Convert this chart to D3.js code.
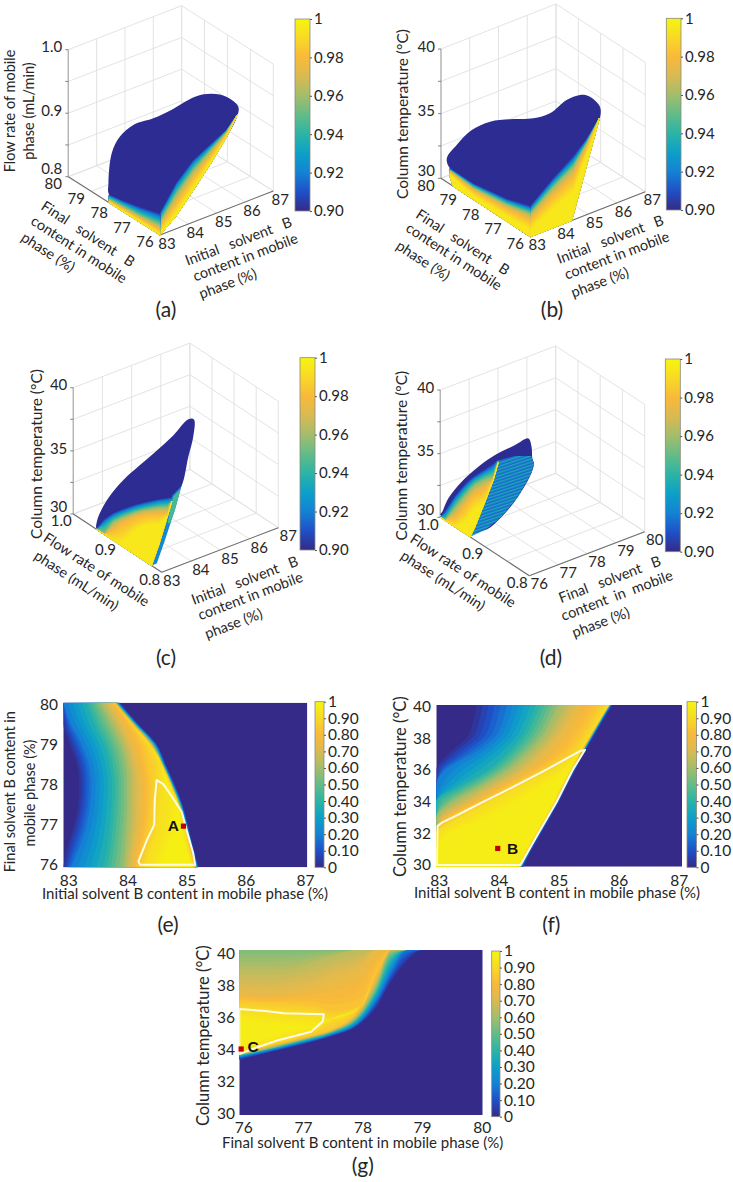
<!DOCTYPE html>
<html lang="en">
<head>
  <meta charset="UTF-8">
  <title>Desirability plots</title>
  <script src="https://d3js.org/d3.v7.min.js"></script>
  <style>
    body { margin: 0; background: #fff; }
    svg { display: block; }
    text { font-family: Lato, "Open Sans", sans-serif; fill: #262626; }
    .domain { display: none; }
  </style>
</head>
<body>
<script>
  // colour map
  const mapStops = [0, 0.1, 0.2, 0.3, 0.4, 0.5, 0.6, 0.7, 0.8, 0.9, 1];
  const mapColors = ["#352a87", "#1f50c8", "#1482d4", "#0ca0c8", "#2bb4a6", "#62bc88", "#a3bd6b", "#d9ba52", "#f9b93a", "#f8d926", "#f6f50f"];
  const barLabels2d = ["0", "0.10", "0.20", "0.30", "0.40", "0.50", "0.60", "0.70", "0.80", "0.90", "1"];
  const barValues2d = [0, 0.1, 0.2, 0.3, 0.4, 0.5, 0.6, 0.7, 0.8, 0.9, 1];
  const barLabels3d = ["0.90", "0.92", "0.94", "0.96", "0.98", "1"];
  const barValues3d = [0.9, 0.92, 0.94, 0.96, 0.98, 1];
  const surfaceNavy = "#2d2c92";

  // tick lists
  const initialTicks = [83, 84, 85, 86, 87];
  const finalTicks = [76, 77, 78, 79, 80];
  const flowTicks = [0.8, 0.9, 1.0];
  const flowGrid = [0.8, 0.85, 0.9, 0.95, 1.0];
  const tempTicks = [30, 35, 40];
  const tempGrid = [30, 32.5, 35, 37.5, 40];
  const tempTicks2d = [30, 32, 34, 36, 38, 40];

  // 3D levels, shared by the cut faces
  const faceLevels = [0.9, 0.92, 0.94, 0.96, 0.98, 0.995];

  // (a) silhouette of the D = 0.90 surface: initial B, final B, flow
  const aSurface = [[83, 78.22, 0.813], [83, 78.25, 0.83], [83.24, 78.4, 0.87], [83.61, 78.5, 0.887], [84, 78.4, 0.901], [84.38, 78, 0.914], [84.71, 77.6, 0.931], [84.97, 77.2, 0.951], [85.34, 77, 0.958], [85.76, 76.8, 0.955], [85.86, 76.4, 0.954], [85.85, 76.1, 0.95], [85.73, 76, 0.94], [85.35, 76, 0.915], [84.76, 76, 0.9], [84.06, 76, 0.88], [83.47, 76, 0.85], [83, 76, 0.825], [83, 76.87, 0.818], [83, 77.67, 0.812]];
  const aSideCols = [[83, 76], [83, 76.87], [83, 77.67], [83, 78.22]];
  const aSide = [
    [0.835, 0.825, 0.817, 0.813],
    [0.829, 0.82, 0.814, 0.8105],
    [0.822, 0.815, 0.811, 0.808],
    [0.815, 0.81, 0.807, 0.805],
    [0.808, 0.806, 0.804, 0.803],
    [0.802, 0.802, 0.801, 0.801]
  ];
  const aSideClose = [[83, 78.22, 0.8], [83, 76, 0.8]];
  const aFrontCols = [[83, 76], [83.59, 76], [84.18, 76], [84.76, 76], [85.35, 76], [85.73, 76]];
  const aFront = [
    [0.835, 0.874, 0.899, 0.912, 0.925, 0.942],
    [0.831, 0.869, 0.894, 0.909, 0.924, 0.942],
    [0.8265, 0.862, 0.888, 0.905, 0.923, 0.942],
    [0.82, 0.854, 0.881, 0.901, 0.921, 0.942],
    [0.813, 0.842, 0.87, 0.893, 0.919, 0.942],
    [0.8035, 0.827, 0.856, 0.884, 0.915, 0.942]
  ];
  const aFrontClose = [[85.35, 76, 0.914], [84.76, 76, 0.88], [84.18, 76, 0.8505], [83.59, 76, 0.821], [83, 76, 0.8]];

  // (b) initial B, final B, temperature
  const bSurface = [[83, 79.6, 31.22], [83, 79.74, 31.84], [83.39, 79.8, 32.46], [83.76, 79.6, 33.52], [83.93, 79, 34.7], [84.23, 78.5, 35.19], [84.66, 78, 35.45], [84.85, 77.5, 36.24], [85.04, 77, 37.67], [85.27, 76.7, 38.2], [85.41, 76.5, 38.22], [85.5, 76.1, 37.77], [85.4, 76, 36.9], [84.96, 76, 35.4], [84.5, 76, 34.5], [83.8, 76, 33.4], [83.22, 76, 32.5], [83, 76, 32], [83, 77.06, 31.4], [83, 78.55, 31]];
  const bSideCols = [[83, 76], [83, 77.06], [83, 78.55], [83, 79.6]];
  const bSide = [
    [32.45, 31.77, 31.25, 31.22],
    [32.2, 31.6, 31.13, 31.16],
    [32, 31.45, 31.03, 31.11],
    [31.76, 31.27, 30.9, 31.05],
    [31.35, 30.97, 30.69, 30.94],
    [30.6, 30.44, 30.31, 30.75]
  ];
  const bSideClose = [[83, 79.6, 30.6], [83, 79.45, 30], [83, 76, 30]];
  const bFrontCols = [[83, 76], [83.8, 76], [84.5, 76], [84.96, 76], [85.4, 76]];
  const bFront = [
    [32.45, 33.9, 35.01, 35.9, 37.07],
    [32.2, 33.63, 34.7, 35.75, 37.07],
    [32, 33.4, 34.4, 35.6, 37.07],
    [31.76, 33.12, 34.09, 35.5, 37.07],
    [31.35, 32.53, 33.4, 35.2, 37.07],
    [30.6, 31.56, 32.25, 34.7, 37.07]
  ];
  const bFrontClose = [[84.44, 76, 30], [83, 76, 30]];

  // (c) initial B, flow, temperature
  const cSurface = [[83, 0.947, 30.05], [83, 0.946, 30.75], [83.2, 0.95, 31.28], [83.5, 0.95, 32.15], [83.96, 0.95, 33], [84.53, 0.95, 33.68], [85.1, 0.95, 34.31], [85.67, 0.95, 35.01], [86.19, 0.95, 35.83], [86.38, 0.95, 35.66], [84.84, 0.85, 37.96], [84.52, 0.84, 36.89], [84.03, 0.823, 35.39], [83.7, 0.823, 34.6], [83, 0.823, 34], [83, 0.9, 32]];
  const cStrip = [[84.03, 0.823, 35.39], [83.8, 0.823, 33.69], [83.46, 0.823, 31.61], [83.18, 0.823, 30], [83, 0.823, 30], [83.25, 0.823, 31.41], [83.55, 0.823, 33.44], [83.7, 0.823, 34.89]];
  const cStripTop = [[84, 0.823, 35.23], [83.8, 0.823, 33.69], [83.63, 0.823, 32.78], [83.55, 0.823, 32.86], [83.72, 0.823, 34.76]];
  const cFaceCols = [[83, 0.947], [83, 0.93], [83, 0.91], [83, 0.89], [83, 0.86], [83, 0.84], [83, 0.823], [83.25, 0.823], [83.55, 0.823], [83.7, 0.823]];
  const cFace = [
    [30.05, 31.27, 32.18, 32.96, 34, 34.64, 35.16, 35.05, 34.92, 34.89],
    [30, 31, 31.97, 32.74, 33.81, 34.46, 34.98, 34.89, 34.7, 34.63],
    [30, 30.66, 31.71, 32.51, 33.58, 34.22, 34.74, 34.63, 34.41, 34.49],
    [30, 30, 31.42, 32.24, 33.34, 34.01, 34.5, 34.36, 34.12, 34.49],
    [30, 30, 30.81, 31.82, 32.99, 33.64, 34.11, 33.91, 33.65, 34.49],
    [30, 30, 30, 30.34, 32.02, 32.82, 33.34, 33.12, 33.44, 34.49]
  ];
  const cFaceClose = [[83.55, 0.823, 33.44], [83.25, 0.823, 31.41], [83, 0.823, 30], [83, 0.947, 30]];

  // (d) final B, flow, temperature
  const dSurface = [[76, 1, 30.2], [76.07, 1, 30.38], [76.28, 1, 31.25], [76.74, 1, 32.16], [77.32, 1, 32.84], [77.59, 0.98, 33.98], [77.82, 0.95, 35.25], [77.82, 0.92, 36.46], [77.62, 0.9, 36.44], [77.34, 0.88, 36.22], [77.24, 0.87, 36.15], [77.15, 0.87, 35.44], [76.69, 0.87, 34], [76.28, 0.88, 32.56], [76.01, 0.9, 31.29], [76, 0.933, 30.6], [76, 0.97, 30.6]];
  const dStrip = [[76, 0.87, 37.43], [76.58, 0.87, 37.3], [77.15, 0.87, 36.8], [77.24, 0.87, 36.15], [77.15, 0.87, 35.44], [76.69, 0.87, 34], [76.28, 0.88, 32.56], [76.01, 0.9, 31.29], [76, 0.933, 30], [76, 0.922, 31.05], [76, 0.8995, 33.53], [76, 0.881, 35.66]];
  const dFaceCols = [[76, 1], [76, 0.989], [76, 0.967], [76, 0.9445], [76, 0.933], [76, 0.922], [76, 0.8995], [76, 0.881], [76, 0.87]];
  const dFace = [
    [30, 30.81, 32.51, 33.94, 34.59, 35.11, 36.15, 37.02, 37.49],
    [30, 30.55, 32.22, 33.68, 34.33, 34.9, 35.88, 36.7, 37.43],
    [30, 30.24, 31.9, 33.36, 34.07, 34.66, 35.62, 36.31, 37.38],
    [30, 30, 31.46, 32.94, 33.67, 34.32, 35.23, 35.87, 37.33],
    [30, 30, 30.75, 32.24, 33.02, 33.67, 34.58, 35.66, 37.28],
    [30, 30, 30, 30.93, 31.84, 32.49, 33.53, 35.66, 37.23]
  ];
  const dFaceClose = [[76, 0.881, 35.66], [76, 0.8995, 33.53], [76, 0.922, 31.05], [76, 0.933, 30], [76, 1, 30]];

  // (e) level edges per row of final B: left and right crossing in initial B
  const eRows = [76, 76.5, 77, 77.5, 78, 78.5, 79, 79.5, 80];
  const eLevels = [0.03, 0.2, 0.4, 0.6, 0.75, 0.85, 0.92, 0.98];
  const eLeft = [
    [83, 83.06, 83.17, 83.24, 83.26, 83.22, 83.1, 83, 83],
    [83.13, 83.27, 83.38, 83.44, 83.46, 83.42, 83.3, 83.12, 83],
    [83.65, 83.72, 83.76, 83.79, 83.8, 83.76, 83.66, 83.5, 83.38],
    [83.98, 84.01, 84.03, 84.05, 84.05, 84.02, 83.93, 83.77, 83.6],
    [84.12, 84.17, 84.22, 84.24, 84.24, 84.2, 84.1, 83.95, 83.75],
    [84.22, 84.3, 84.38, 84.41, 84.42, 84.38, 84.3, 84.1, 83.84],
    [84.35, 84.45, 84.55, 84.58, 84.6, 84.6, 84.4, 84.1, 83.84],
    [84.6, 84.72, 84.85, 84.88, 84.73, 84.58, 84.38, 84.08, 83.82]
  ];
  const eRight = [
    [85.22, 85.13, 85.05, 84.96, 84.83, 84.68, 84.53, 84.22, 83.93],
    [85.2, 85.11, 85.03, 84.94, 84.81, 84.66, 84.5, 84.19, 83.9],
    [85.19, 85.1, 85.02, 84.93, 84.79, 84.64, 84.48, 84.17, 83.88],
    [85.18, 85.09, 85.01, 84.91, 84.78, 84.63, 84.45, 84.15, 83.86],
    [85.16, 85.08, 85, 84.9, 84.77, 84.62, 84.43, 84.13, 83.85],
    [85.15, 85.07, 84.99, 84.9, 84.77, 84.62, 84.42, 84.12, 83.84],
    [85.14, 85.05, 84.98, 84.88, 84.75, 84.6, 84.4, 84.1, 83.84],
    [85.1, 85, 84.92, 84.88, 84.73, 84.58, 84.38, 84.08, 83.82]
  ];
  const eContour = [[84.53, 78.12], [84.64, 78.02], [84.78, 77.72], [84.94, 77.35], [85.02, 76.91], [85.13, 76.34], [85.16, 76.06], [84.26, 76.06], [84.23, 76.14], [84.37, 76.66], [84.49, 77.03], [84.5, 77.64]];
  const ePoint = [84.97, 77];

  // (f) level edges per row of temperature
  const fRows = [30, 31, 32, 33, 34, 35, 36, 37, 38, 39, 40];
  const fLevels = [0.03, 0.2, 0.4, 0.6, 0.75, 0.85, 0.92, 0.97];
  const fLeft = [
    [83, 83, 83, 83, 83, 83, 83, 83.2, 83.5, 83.6, 83.65],
    [83, 83, 83, 83, 83, 83, 83.15, 83.6, 83.95, 84.08, 84.15],
    [83, 83, 83, 83, 83, 83.4, 83.85, 84.15, 84.38, 84.52, 84.62],
    [83, 83, 83, 83, 83.25, 83.72, 84.15, 84.45, 84.7, 84.85, 84.97],
    [83, 83, 83, 83.1, 83.55, 84, 84.45, 84.75, 84.98, 85.15, 85.3],
    [83, 83, 83, 83.2, 83.72, 84.2, 84.7, 85.1, 85.32, 85.5, 85.65],
    [83, 83, 83, 83.4, 83.9, 84.4, 84.9, 85.3, 85.48, 85.64, 85.8],
    [83, 83, 83.2, 83.8, 84.3, 84.75, 85.15, 85.3, 85.46, 85.62, 85.77]
  ];
  const fRight = [
    [84.42, 84.55, 84.7, 84.85, 85, 85.13, 85.27, 85.4, 85.56, 85.71, 85.87],
    [84.39, 84.52, 84.67, 84.82, 84.97, 85.1, 85.24, 85.38, 85.53, 85.68, 85.84],
    [84.38, 84.51, 84.66, 84.81, 84.96, 85.09, 85.23, 85.37, 85.52, 85.67, 85.83],
    [84.37, 84.5, 84.65, 84.8, 84.95, 85.08, 85.22, 85.36, 85.51, 85.66, 85.82],
    [84.36, 84.49, 84.64, 84.79, 84.94, 85.07, 85.21, 85.35, 85.5, 85.65, 85.81],
    [84.35, 84.48, 84.63, 84.78, 84.93, 85.06, 85.2, 85.34, 85.49, 85.65, 85.81],
    [84.34, 84.47, 84.62, 84.77, 84.92, 85.05, 85.19, 85.33, 85.48, 85.64, 85.8],
    [84.32, 84.45, 84.6, 84.75, 84.9, 85.03, 85.17, 85.3, 85.46, 85.62, 85.77]
  ];
  const fContour = [[83.01, 30.1], [84.37, 30.1], [84.66, 32.06], [84.96, 34.02], [85.22, 35.98], [85.42, 37.22], [85.34, 37.15], [84.8, 36.02], [84.26, 34.95], [83.77, 34.02], [83.31, 33.13], [83.09, 32.72], [83.02, 32.52]];
  const fPoint = [84, 31.13];

  // (g) level edges per column of final B: lower and upper crossing in temperature
  const gCols = [76, 76.5, 77, 77.25, 77.5, 78, 78.25, 78.5, 78.75, 79, 80];
  const gLevels = [0.03, 0.2, 0.4, 0.55, 0.65, 0.75, 0.85, 0.92, 0.97];
  const gLower = [
    [33.33, 33.8, 34.24, 34.48, 34.75, 35.55, 36.5, 38.1, 39.3, 40, 40],
    [33.5, 33.9, 34.35, 34.58, 34.85, 35.75, 36.95, 38.7, 40, 40, 40],
    [33.6, 34, 34.45, 34.68, 34.95, 36, 37.4, 39.4, 40, 40, 40],
    [33.65, 34.03, 34.52, 34.75, 35.02, 36.15, 37.7, 39.8, 40, 40, 40],
    [33.67, 34.1, 34.57, 34.8, 35.07, 36.3, 38, 40, 40, 40, 40],
    [33.7, 34.15, 34.6, 34.83, 35.1, 36.4, 38.2, 40, 40, 40, 40],
    [33.75, 34.2, 34.65, 34.88, 35.15, 36.6, 38.6, 40, 40, 40, 40],
    [33.75, 34.3, 34.85, 35.2, 35.8, 36.6, 38.6, 40, 40, 40, 40],
    [34.2, 34.7, 35.25, 35.3, 35.8, 36.6, 38.6, 40, 40, 40, 40]
  ];
  const gUpper = [
    [40, 40, 40, 40, 40, 40, 40, 40, 40, 40, 40],
    [40, 40, 40, 40, 40, 40, 40, 40, 40, 40, 40],
    [40, 40, 40, 40, 40, 40, 40, 40, 40, 40, 40],
    [40, 40, 40, 40, 40, 40, 40, 40, 40, 40, 40],
    [38.8, 38.8, 39, 39.3, 39.6, 40, 40, 40, 40, 40, 40],
    [37.4, 37.3, 37.6, 37.8, 38.2, 39, 40, 40, 40, 40, 40],
    [36.9, 36.8, 36.7, 36.6, 36.3, 36.6, 38.6, 40, 40, 40, 40],
    [36.42, 36.25, 36.12, 36.05, 35.8, 36.6, 38.6, 40, 40, 40, 40],
    [35.8, 35.5, 35.4, 35.3, 35.8, 36.6, 38.6, 40, 40, 40, 40]
  ];
  const gContour = [[76, 36.42], [76.43, 36.3], [76.73, 36.16], [77.39, 36.1], [77.37, 35.66], [77.18, 35.05], [76.65, 34.55], [76.32, 34.14], [76, 33.7]];
  const gPoint = [76.03, 34];

  const svg = d3.select("body").append("svg")
    .attr("width", 733)
    .attr("height", 1182);
  const defs = svg.append("defs");

  const color2d = d3.scaleLinear().domain(mapStops).range(mapColors);
  const color3d = d3.scaleLinear().domain(mapStops.map(d => 0.9 + d * 0.1)).range(mapColors);
  const bandSteps = 5;

  function label(x, y, str, size, rotate, anchor) {
    return svg.append("text")
      .attr("transform", "translate(" + x + "," + y + ") rotate(" + (rotate || 0) + ")")
      .attr("text-anchor", anchor || "middle")
      .attr("dominant-baseline", "middle")
      .attr("font-size", size)
      .style("white-space", "pre")
      .text(str);
  }

  // colour bar, both kinds
  let barCount = 0;
  function colorBar(x0, x1, y0, y1, domain, values, labels, size) {
    const id = "bar" + (barCount++);
    const grad = defs.append("linearGradient").attr("id", id)
      .attr("x1", 0).attr("y1", 1).attr("x2", 0).attr("y2", 0);
    mapStops.forEach((s, i) => grad.append("stop").attr("offset", s).attr("stop-color", mapColors[i]));
    svg.append("rect")
      .attr("x", x0).attr("y", y0).attr("width", x1 - x0).attr("height", y1 - y0)
      .attr("fill", "url(#" + id + ")")
      .attr("stroke", "#8a8a80").attr("stroke-width", 0.8);
    const scale = d3.scaleLinear().domain(domain).range([y1, y0]);
    const axis = d3.axisRight(scale).tickValues(values).tickSize(2).tickPadding(2)
      .tickFormat((d, i) => labels[i]);
    const g = svg.append("g").attr("transform", "translate(" + x1 + ",0)").call(axis);
    g.selectAll("text").attr("font-size", size);
    g.selectAll("line").attr("stroke", "#555");
  }

  // ---------- 3D panels ----------
  function panel3d(cfg) {
    const sx = d3.scaleLinear().domain(cfg.xDomain).range([0, 1]);
    const sy = d3.scaleLinear().domain(cfg.yDomain).range([0, 1]);
    const sz = d3.scaleLinear().domain(cfg.zDomain).range([0, 1]);
    const project = (x, y, z) => [
      cfg.front[0] + sx(x) * cfg.right[0] + sy(y) * cfg.left[0],
      cfg.front[1] + sx(x) * cfg.right[1] + sy(y) * cfg.left[1] - sz(z) * cfg.height
    ];
    const [x0, x1] = cfg.xDomain, [y0, y1] = cfg.yDomain, [z0, z1] = cfg.zDomain;
    const g = svg.append("g");
    const seg = (a, b, stroke, w) => g.append("line")
      .attr("x1", a[0]).attr("y1", a[1]).attr("x2", b[0]).attr("y2", b[1])
      .attr("stroke", stroke).attr("stroke-width", w);
    const gridC = "#e0e0e0";
    cfg.xTicks.forEach(t => {
      seg(project(t, y0, z0), project(t, y1, z0), gridC, 0.9);
      seg(project(t, y1, z0), project(t, y1, z1), gridC, 0.9);
    });
    cfg.yGrid.forEach(t => {
      seg(project(x0, t, z0), project(x1, t, z0), gridC, 0.9);
      seg(project(x1, t, z0), project(x1, t, z1), gridC, 0.9);
    });
    cfg.zGrid.forEach(t => {
      seg(project(x0, y1, t), project(x1, y1, t), gridC, 0.9);
      seg(project(x1, y1, t), project(x1, y0, t), gridC, 0.9);
    });
    // axis edges
    seg(project(x0, y1, z0), project(x0, y1, z1), "#b5b5b5", 1.4);
    seg(project(x0, y1, z0), project(x0, y0, z0), "#6f6f6f", 1.1);
    seg(project(x0, y0, z0), project(x1, y0, z0), "#6f6f6f", 1.1);
    cfg.zGrid.forEach(t => {
      const p = project(x0, y1, t);
      seg(p, [p[0] - 3, p[1]], "#666", 0.8);
    });
    cfg.xTicks.forEach((t, i) => {
      const p = project(t, y0, z0);
      label(p[0] + cfg.xLabelDx, p[1] + 10, cfg.xLabels[i], 15);
    });
    cfg.yTicks.forEach((t, i) => {
      const p = project(x0, t, z0);
      label(p[0] + cfg.yLabelDx, p[1] + 8.5, cfg.yLabels[i], 15);
    });
    cfg.zTicks.forEach((t, i) => {
      const p = project(x0, y1, t);
      label(p[0] - 6, p[1] + (i === 0 ? -6 : -1), cfg.zLabels[i], 15, 0, "end");
    });
    const poly = pts => g.append("path")
      .attr("d", d3.line().curve(d3.curveLinearClosed)(pts.map(p => project(p[0], p[1], p[2]))));
    const smooth = pts => g.append("path")
      .attr("d", d3.line().curve(d3.curveCatmullRomClosed.alpha(0.5))(pts.map(p => project(p[0], p[1], p[2]))));
    return { g, project, poly, smooth };
  }

  // stack of filled level regions on a cut face, shaded between the read levels
  function drawFace(p3, levels, curves, cols, closing) {
    for (let i = 0; i < levels.length; i++) {
      const last = i === levels.length - 1;
      const steps = last ? 1 : bandSteps;
      for (let s = 0; s < steps; s++) {
        const t = s / steps;
        const lvl = last ? levels[i] : levels[i] + (levels[i + 1] - levels[i]) * t;
        const line = cols.map((c, j) => {
          const z = last ? curves[i][j] : curves[i][j] + (curves[i + 1][j] - curves[i][j]) * t;
          return [c[0], c[1], z];
        });
        p3.poly(line.concat(closing))
          .attr("fill", color3d(lvl))
          .attr("stroke", color3d(lvl))
          .attr("stroke-width", 0.4);
      }
    }
  }

  const finalLabel = ["Final   solvent   B", "content in mobile", "phase (%)"];
  const initialLabel = ["Initial   solvent   B", "content in mobile", "phase (%)"];
  const flowLabel = ["Flow rate of mobile", "phase (mL/min)"];

  // (a)
  const pa = panel3d({
    front: [160, 235], right: [113.3, -44], left: [-91.7, -58.3], height: 127,
    xDomain: [83, 87], yDomain: [76, 80], zDomain: [0.8, 1.0],
    xTicks: initialTicks, xLabels: initialTicks, yTicks: finalTicks, yLabels: finalTicks, yGrid: finalTicks,
    zTicks: flowTicks, zLabels: ["0.8", "0.9", "1.0"], zGrid: flowGrid,
    xLabelDx: 7, yLabelDx: -15
  });
  pa.smooth(aSurface).attr("fill", surfaceNavy);
  drawFace(pa, faceLevels, aFront, aFrontCols, aFrontClose);
  drawFace(pa, faceLevels, aSide, aSideCols, aSideClose);
  colorBar(295, 310, 19, 211, [0.9, 1], barValues3d, barLabels3d, 15);

  // (b)
  const pb = panel3d({
    front: [530.3, 236.7], right: [115, -45], left: [-89.3, -58.4], height: 129.3,
    xDomain: [83, 87], yDomain: [76, 80], zDomain: [30, 40],
    xTicks: initialTicks, xLabels: initialTicks, yTicks: finalTicks, yLabels: finalTicks, yGrid: finalTicks,
    zTicks: tempTicks, zLabels: tempTicks, zGrid: tempGrid,
    xLabelDx: 7, yLabelDx: -15
  });
  pb.smooth(bSurface).attr("fill", surfaceNavy);
  drawFace(pb, faceLevels, bFront, bFrontCols, bFrontClose);
  drawFace(pb, faceLevels, bSide, bSideCols, bSideClose);
  colorBar(666.3, 681, 18.3, 210, [0.9, 1], barValues3d, barLabels3d, 15);

  // (c)
  const pc = panel3d({
    front: [161.7, 572.3], right: [116.6, -44.6], left: [-88.4, -58.3], height: 126.3,
    xDomain: [83, 87], yDomain: [0.8, 1.0], zDomain: [30, 40],
    xTicks: initialTicks, xLabels: initialTicks, yTicks: flowTicks, yLabels: ["0.8", "0.9", "1.0"], yGrid: flowGrid,
    zTicks: tempTicks, zLabels: tempTicks, zGrid: tempGrid,
    xLabelDx: 10, yLabelDx: -12
  });
  pc.smooth(cSurface).attr("fill", surfaceNavy);
  pc.poly(cStrip).attr("fill", color3d(0.922));
  pc.poly(cStripTop).attr("fill", color3d(0.945));
  drawFace(pc, faceLevels, cFace, cFaceCols, cFaceClose);
  colorBar(300, 315, 357.7, 550, [0.9, 1], barValues3d, barLabels3d, 15);

  // (d)
  const pd = panel3d({
    front: [529.3, 575.7], right: [115.4, -44], left: [-89, -58.4], height: 127.3,
    xDomain: [76, 80], yDomain: [0.8, 1.0], zDomain: [30, 40],
    xTicks: finalTicks, xLabels: finalTicks, yTicks: flowTicks, yLabels: ["0.8", "0.9", "1.0"], yGrid: flowGrid,
    zTicks: tempTicks, zLabels: tempTicks, zGrid: tempGrid,
    xLabelDx: 10, yLabelDx: -12
  });
  const stripes = defs.append("pattern").attr("id", "moire")
    .attr("patternUnits", "userSpaceOnUse").attr("width", 3).attr("height", 3)
    .attr("patternTransform", "rotate(-18)");
  stripes.append("rect").attr("width", 3).attr("height", 3).attr("fill", color3d(0.915));
  stripes.append("rect").attr("width", 3).attr("height", 1.3).attr("fill", color3d(0.935));
  pd.smooth(dSurface).attr("fill", surfaceNavy);
  pd.poly(dStrip).attr("fill", "url(#moire)");
  drawFace(pd, faceLevels, dFace, dFaceCols, dFaceClose);
  colorBar(665.3, 680.3, 359, 551.7, [0.9, 1], barValues3d, barLabels3d, 15);

  // 3D axis titles
  const rightAngle = -20.7, leftAngle = 33;
  label(11, 111, flowLabel[0], 14.5, -90);
  label(30, 111, flowLabel[1], 14.5, -90);
  label(403.7, 114, "Column temperature (°C)", 15.5, -90);
  label(37.7, 454, "Column temperature (°C)", 15.5, -90);
  label(402.7, 455.7, "Column temperature (°C)", 15.5, -90);

  function floorTitles(fx, fy, leftLines, rightLines, leftPos, rightPos) {
    leftLines.forEach((s, i) => label(fx + leftPos[i][0], fy + leftPos[i][1], s, 14.5, leftAngle));
    rightLines.forEach((s, i) => label(fx + rightPos[i][0], fy + rightPos[i][1], s, 14.5, rightAngle));
  }
  floorTitles(160, 235, finalLabel, initialLabel, [[-72.7, 0], [-81.7, 15.7], [-112.7, 18.3]], [[79, 7.5], [85.7, 23.5], [68.3, 50]]);
  floorTitles(530.3, 236.7, finalLabel, initialLabel, [[-68.3, 6.6], [-77, 21], [-108, 25]], [[80.4, 4], [87, 20], [70, 47]]);
  floorTitles(161.7, 572.3, flowLabel, initialLabel, [[-66, -1.6], [-86, 9.4]], [[83.6, 9.4], [89, 25], [72.3, 52.7]]);
  floorTitles(529.3, 575.7, flowLabel, ["Final   solvent   B", "content  in  mobile", "phase (%)"], [[-67, -4], [-87, 6]], [[81, 5], [88, 21], [72, 48]]);

  // ---------- 2D panels ----------
  let clipCount = 0;
  function panel2d(cfg) {
    const x = d3.scaleLinear().domain(cfg.xDomain).range([cfg.left, cfg.right]);
    const y = d3.scaleLinear().domain(cfg.yDomain).range([cfg.bottom, cfg.top]);
    const id = "plot" + (clipCount++);
    defs.append("clipPath").attr("id", id).append("rect")
      .attr("x", cfg.left).attr("y", cfg.top)
      .attr("width", cfg.right - cfg.left).attr("height", cfg.bottom - cfg.top);
    const g = svg.append("g").attr("clip-path", "url(#" + id + ")");
    g.append("rect")
      .attr("x", cfg.left).attr("y", cfg.top)
      .attr("width", cfg.right - cfg.left).attr("height", cfg.bottom - cfg.top)
      .attr("fill", mapColors[0]);
    // tick labels sit a little inside the plot ends, as in the picture
    const xLab = x.copy().range(cfg.xLabelRange);
    const yLab = y.copy().range(cfg.yLabelRange);
    const ax = svg.append("g").attr("transform", "translate(0," + cfg.xAxisY + ")")
      .call(d3.axisBottom(xLab).tickValues(cfg.xTicks).tickSize(0).tickPadding(0).tickFormat(d3.format("d")));
    const ay = svg.append("g").attr("transform", "translate(" + cfg.yAxisX + ",0)")
      .call(d3.axisLeft(yLab).tickValues(cfg.yTicks).tickSize(0).tickPadding(0).tickFormat(d3.format("d")));
    ax.selectAll("text").attr("font-size", 15.5).attr("dy", "0");
    ay.selectAll("text").attr("font-size", 15.5);
    return { x, y, g };
  }

  function rowBands(p, levels, rows, lefts, rights) {
    const area = d3.area().curve(d3.curveMonotoneY);
    levels.forEach((lvl, i) => {
      const last = i === levels.length - 1;
      const steps = last ? 1 : bandSteps;
      for (let s = 0; s < steps; s++) {
        const t = s / steps;
        const pick = (arr, j) => last ? arr[i][j] : arr[i][j] + (arr[i + 1][j] - arr[i][j]) * t;
        const val = last ? lvl : lvl + (levels[i + 1] - lvl) * t;
        p.g.append("path")
          .datum(rows)
          .attr("d", area
            .y(d => p.y(d))
            .x0((d, j) => p.x(pick(lefts, j)))
            .x1((d, j) => p.x(pick(rights, j))))
          .attr("fill", color2d(val));
      }
    });
  }

  function colBands(p, levels, cols, lowers, uppers) {
    const area = d3.area().curve(d3.curveMonotoneX);
    levels.forEach((lvl, i) => {
      const last = i === levels.length - 1;
      const steps = last ? 1 : bandSteps;
      for (let s = 0; s < steps; s++) {
        const t = s / steps;
        const pick = (arr, j) => last ? arr[i][j] : arr[i][j] + (arr[i + 1][j] - arr[i][j]) * t;
        const val = last ? lvl : lvl + (levels[i + 1] - lvl) * t;
        p.g.append("path")
          .datum(cols)
          .attr("d", area
            .x(d => p.x(d))
            .y0((d, j) => p.y(pick(lowers, j)))
            .y1((d, j) => p.y(pick(uppers, j))))
          .attr("fill", color2d(val));
      }
    });
  }

  function contourAndPoint(p, contour, point, name, dx, dy) {
    p.g.append("path")
      .attr("d", d3.line().x(d => p.x(d[0])).y(d => p.y(d[1])).curve(d3.curveLinearClosed)(contour))
      .attr("fill", "none").attr("stroke", "#fdfbe6").attr("stroke-width", 2)
      .attr("stroke-linejoin", "round");
    svg.append("rect")
      .attr("x", p.x(point[0]) - 2.6).attr("y", p.y(point[1]) - 2.6)
      .attr("width", 5.2).attr("height", 5.2).attr("fill", "#c00000");
    svg.append("text")
      .attr("x", p.x(point[0]) + dx).attr("y", p.y(point[1]) + dy)
      .attr("text-anchor", "middle").attr("dominant-baseline", "middle")
      .attr("font-size", 15.5).attr("font-weight", "bold")
      .style("font-family", "'Liberation Sans', sans-serif")
      .style("fill", "#111")
      .text(name);
  }

  // (e)
  const pe = panel2d({
    left: 63.3, right: 307.3, top: 702.7, bottom: 867.3,
    xDomain: [83, 87], yDomain: [76, 80], xTicks: initialTicks, yTicks: finalTicks,
    xLabelRange: [68.3, 305], yLabelRange: [865, 705], xAxisY: 885.5, yAxisX: 58
  });
  rowBands(pe, eLevels, eRows, eLeft, eRight);
  contourAndPoint(pe, eContour, ePoint, "A", -10, 0.5);
  colorBar(315, 324, 701.7, 867.3, [0, 1], barValues2d, barLabels2d, 15.5);
  label(185, 895, "Initial solvent B content in mobile phase (%)", 15);
  label(11.7, 791.7, "Final solvent B content in", 14.5, -90);
  label(31.7, 793, "mobile phase (%)", 14.5, -90);

  // (f)
  const pf = panel2d({
    left: 436.3, right: 682, top: 705, bottom: 866.7,
    xDomain: [83, 87], yDomain: [30, 40], xTicks: initialTicks, yTicks: tempTicks2d,
    xLabelRange: [438.7, 678.7], yLabelRange: [865, 706.7], xAxisY: 885.5, yAxisX: 431
  });
  rowBands(pf, fLevels, fRows, fLeft, fRight);
  contourAndPoint(pf, fContour, fPoint, "B", 15, 1);
  colorBar(687, 696.5, 701.7, 867.3, [0, 1], barValues2d, barLabels2d, 15.5);
  label(557, 894.3, "Initial solvent B content in mobile phase (%)", 15);
  label(402, 786.7, "Column temperature (°C)", 16.5, -90);

  // (g)
  const pg = panel2d({
    left: 239.3, right: 482.7, top: 950, bottom: 1115,
    xDomain: [76, 80], yDomain: [30, 40], xTicks: finalTicks, yTicks: tempTicks2d,
    xLabelRange: [243.3, 481.7], yLabelRange: [1114, 953.3], xAxisY: 1133, yAxisX: 235
  });
  colBands(pg, gLevels, gCols, gLower, gUpper);
  contourAndPoint(pg, gContour, gPoint, "C", 12, -1);
  colorBar(491.7, 500, 951, 1116.7, [0, 1], barValues2d, barLabels2d, 15.5);
  label(362.7, 1144.3, "Final solvent B content in mobile phase (%)", 15);
  label(205, 1035.7, "Column temperature (°C)", 16.5, -90);

  // panel letters
  const panelLetters = [["(a)", 166, 312], ["(b)", 552, 312], ["(c)", 166, 660], ["(d)", 551, 660], ["(e)", 168, 927], ["(f)", 551.3, 927], ["(g)", 362.7, 1168]];
  panelLetters.forEach(d => label(d[1], d[2], d[0], 21));
</script>
</body>
</html>
